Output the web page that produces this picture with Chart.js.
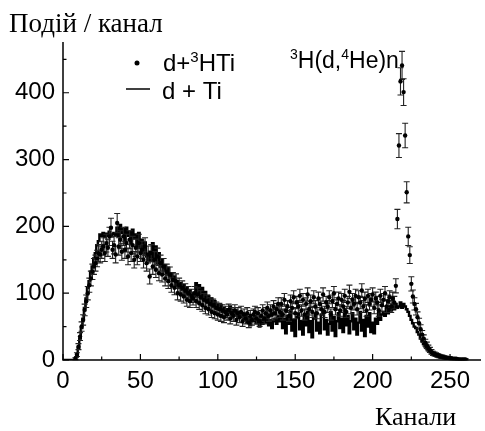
<!DOCTYPE html>
<html><head><meta charset="utf-8">
<script src="https://cdn.jsdelivr.net/npm/chart.js@4/dist/chart.umd.min.js"></script>
<style>html,body{margin:0;padding:0;background:#fff}#wrap{width:485px;height:431px;position:relative}</style>
</head><body><div id="wrap"><canvas id="c" width="485" height="431"></canvas></div>
<script>
// ---- data ----
const yTitle = "Подій / канал";
const xTitle = "Канали";
const xTicks = [0, 50, 100, 150, 200, 250];
const yTicks = [0, 100, 200, 300, 400];
const xMinor = [25, 75, 125, 175, 225];
const yMinor = [50, 150, 250, 350, 450];
const legendDots = "d+³HTi";
const legendLine = "d + Ti";
const reaction = "³H(d,⁴He)n";

// d + Ti (line), channels starting at 0
const lineStart = 0;
const lineValues = [
 0,0,0,0,0,0,0,0,0,5,
 18,32,48,62,78,92,108,118,132,140,
 152,160,172,178,188,186,190,184,189,186,
 192,187,188,190,186,198,185,202,190,196,
 178,198,186,192,175,195,182,188,170,190,
 168,180,160,176,155,150,162,148,175,152,
 170,145,160,140,150,135,142,128,138,125,
 130,118,125,112,118,108,115,105,112,100,
 108,98,104,92,100,95,115,98,112,95,
 108,90,102,88,96,84,92,80,88,78,
 84,76,82,72,78,70,76,72,80,70,
 75,68,74,66,72,64,70,62,68,56,
 64,52,62,58,66,55,62,50,60,54,
 64,56,66,52,60,48,58,62,54,66,
 58,72,48,62,40,66,54,74,44,60,
 36,64,70,46,58,38,66,52,72,42,
 58,34,62,70,44,56,40,68,74,46,
 60,38,54,72,44,64,36,58,70,48,
 62,42,76,52,66,40,58,70,46,62,
 38,56,72,44,60,36,66,50,70,42,
 56,40,62,54,70,60,68,72,66,76,
 70,80,74,82,76,84,78,80,86,78,
 84,80,76,72,66,60,55,50,48,42,
 38,32,28,24,20,17,14,12,10,8,
 7,6,5,5,4,4,3,3,2,2,
 2,1,1,1,1,0,1,0,0,0,0
];

// d+3HTi (points with error bars), channels starting at 8
const dotStart = 8;
const dotValues = [
 2,8,
 20,35,50,60,75,88,100,112,122,132,
 140,145,152,160,158,165,170,160,175,168,
 185,198,165,172,158,205,170,180,162,185,
 165,175,155,180,160,172,150,168,155,175,
 160,165,150,170,145,158,125,160,140,150,
 135,155,130,145,128,140,122,132,118,128,
 112,120,108,118,100,112,98,108,95,104,
 90,100,88,96,92,100,88,98,85,94,
 82,90,78,88,76,84,72,82,70,78,
 68,76,66,74,64,72,68,75,62,70,
 66,74,60,70,64,72,58,68,62,70,
 56,66,60,68,72,62,70,58,66,74,
 62,70,78,66,74,68,80,70,76,84,
 72,84,68,90,74,80,66,88,78,94,
 70,86,80,96,74,90,68,84,98,76,
 88,72,94,80,70,92,84,76,98,72,
 86,80,94,68,88,100,76,84,92,74,
 90,80,96,72,86,102,78,90,84,96,
 76,94,86,104,80,92,74,96,84,90,
 98,78,92,86,74,96,82,90,100,80,
 88,94,80,92,86,111,211,321,417,441,
 401,336,251,185,157,114,95,84,76,64,
 55,46,38,32,26,22,18,15,12,10,
 9,8,7,6,5,5,4,4,3,3,
 3,2,2,2,2,1,1,1,1,1,1
];

const linePts = lineValues.map((v, i) => ({x: lineStart + i, y: v}));
const dotPts = dotValues.map((v, i) => ({x: dotStart + i, y: v}));

const SANS = "'Liberation Sans', Arial, sans-serif";
const SERIF = "'Liberation Serif', 'Times New Roman', serif";

const overlay = {
  id: 'overlay',
  beforeDatasetDraw(chart, args) {
    if (args.index !== 1) return;
    const {ctx, scales: {x, y}} = chart;
    ctx.save();
    ctx.strokeStyle = '#222';
    ctx.lineWidth = 1.1;
    dotValues.forEach((v, i) => {
      const e = Math.sqrt(v);
      const px = x.getPixelForValue(dotStart + i);
      const y1 = y.getPixelForValue(v + e), y2 = y.getPixelForValue(Math.max(0, v - e));
      ctx.beginPath();
      ctx.moveTo(px, y1); ctx.lineTo(px, y2);
      ctx.moveTo(px - 3, y1); ctx.lineTo(px + 3, y1);
      ctx.moveTo(px - 3, y2); ctx.lineTo(px + 3, y2);
      ctx.stroke();
    });
    ctx.restore();
  },
  afterDraw(chart) {
    const {ctx, scales: {x, y}, chartArea: a} = chart;
    ctx.save();
    ctx.strokeStyle = '#000';
    ctx.lineWidth = 1.5;
    ctx.beginPath();
    ctx.moveTo(a.left, a.top); ctx.lineTo(a.left, a.bottom); ctx.lineTo(a.right, a.bottom);
    ctx.stroke();
    ctx.lineWidth = 1.2;
    ctx.beginPath();
    xTicks.forEach(t => { const p = x.getPixelForValue(t); ctx.moveTo(p, a.bottom); ctx.lineTo(p, a.bottom - 6); });
    xMinor.forEach(t => { const p = x.getPixelForValue(t); ctx.moveTo(p, a.bottom); ctx.lineTo(p, a.bottom - 3.5); });
    yTicks.forEach(t => { const p = y.getPixelForValue(t); ctx.moveTo(a.left, p); ctx.lineTo(a.left + 6, p); });
    yMinor.forEach(t => { const p = y.getPixelForValue(t); ctx.moveTo(a.left, p); ctx.lineTo(a.left + 3.5, p); });
    ctx.stroke();

    ctx.fillStyle = '#000';
    ctx.textBaseline = 'alphabetic';
    ctx.textAlign = 'left';
    ctx.font = '27px ' + SERIF;
    ctx.fillText(yTitle, 9, 32);
    ctx.font = '26px ' + SERIF;
    ctx.fillText(xTitle, 375, 425);

    function rich(parts, x0, base, size) {
      let cx = x0;
      parts.forEach(([t, sup]) => {
        ctx.font = (sup ? Math.round(size * 0.62) + 'px ' : size + 'px ') + SANS;
        ctx.fillText(t, cx, sup ? base - 9 : base);
        cx += ctx.measureText(t).width;
      });
    }
    // legend
    ctx.beginPath(); ctx.arc(137, 63, 2.5, 0, Math.PI * 2); ctx.fill();
    rich([["d+", 0], ["3", 1], ["HTi", 0]], 163, 71, 24);
    ctx.lineWidth = 1.5;
    ctx.beginPath(); ctx.moveTo(126, 89); ctx.lineTo(150, 89); ctx.stroke();
    rich([[legendLine, 0]], 162, 99, 24);
    rich([["3", 1], ["H(d,", 0], ["4", 1], ["He)n", 0]], 290, 68, 23);
    ctx.restore();
  }
};

new Chart(document.getElementById('c'), {
  type: 'scatter',
  data: {
    datasets: [
      {label: legendLine, data: linePts, showLine: true, stepped: 'middle', borderColor: '#000', borderWidth: 2.4, pointRadius: 0, order: 2},
      {label: legendDots, data: dotPts, showLine: false, pointRadius: 2.2, pointBackgroundColor: '#000', pointBorderWidth: 0, order: 1}
    ]
  },
  options: {
    responsive: false,
    animation: false,
    events: [],
    layout: {padding: {top: 42, right: 0, left: 0, bottom: 0}},
    plugins: {legend: {display: false}, tooltip: {enabled: false}},
    scales: {
      x: {
        type: 'linear', min: 0, max: 270,
        grid: {display: false, drawTicks: false},
        border: {display: false},
        afterBuildTicks: s => { s.ticks = xTicks.map(v => ({value: v})); },
        afterFit: s => { s.height = 71; },
        ticks: {font: {family: SANS, size: 24}, color: '#000', padding: 7, maxRotation: 0, autoSkip: false}
      },
      y: {
        type: 'linear', min: 0, max: 476,
        grid: {display: false, drawTicks: false},
        border: {display: false},
        afterBuildTicks: s => { s.ticks = yTicks.map(v => ({value: v})); },
        afterFit: s => { s.width = 63; },
        ticks: {font: {family: SANS, size: 24}, color: '#000', padding: 8}
      }
    }
  },
  plugins: [overlay]
});
</script></body></html>
